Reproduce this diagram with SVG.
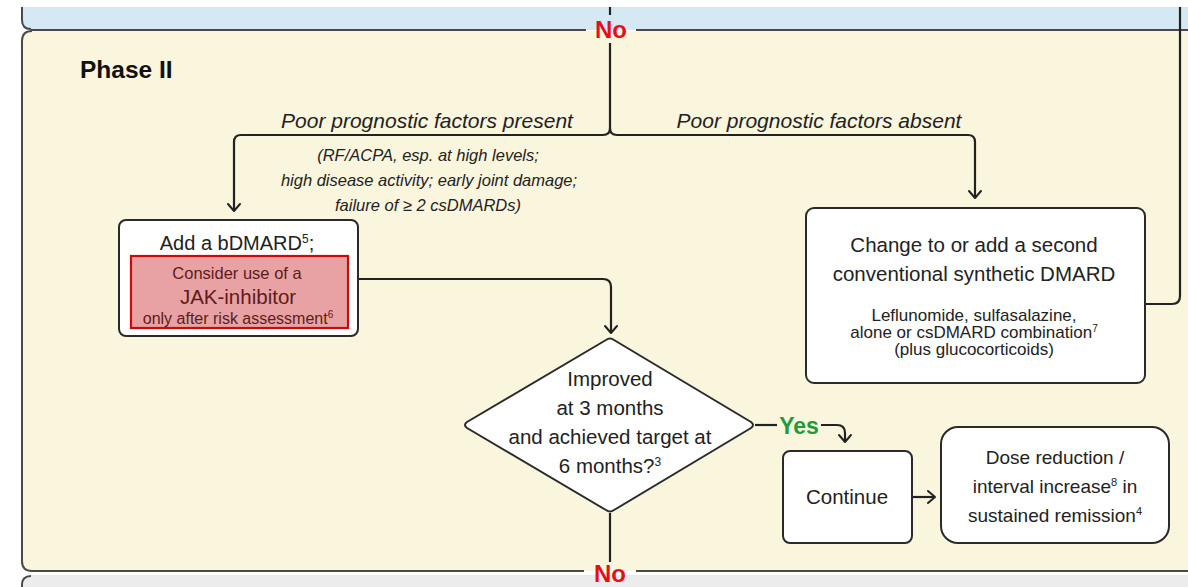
<svg xmlns="http://www.w3.org/2000/svg" width="1188" height="587" viewBox="0 0 1188 587">
  <defs>
    <marker id="arrow" markerUnits="userSpaceOnUse" markerWidth="20" markerHeight="20" viewBox="-10 -10 20 20" refX="0" refY="0" orient="auto">
      <path d="M-7,-6 L0,0 L-7,6" fill="none" stroke="#222" stroke-width="2" stroke-linecap="round" stroke-linejoin="round"/>
    </marker>
    <style>
      text { font-family: "Liberation Sans", Arial, sans-serif; fill: #222; }
      .panel-line { fill: none; stroke: #4a4a4a; stroke-width: 2; }
      .box { fill: #ffffff; stroke: #2a2a2a; stroke-width: 2; }
      .conn { fill: none; stroke: #222; stroke-width: 2.2; }
      .arrow { marker-end: url(#arrow); }
      .main { font-size: 20.5px; text-anchor: middle; }
      .dose { font-size: 19px; text-anchor: middle; }
      .small { font-size: 17px; text-anchor: middle; }
      .branch { font-size: 21px; font-style: italic; text-anchor: middle; }
      .note { font-size: 16.5px; font-style: italic; text-anchor: middle; }
      .no { font-size: 24px; font-weight: bold; fill: #e3101b; text-anchor: middle; }
      .yes { font-size: 23px; font-weight: bold; fill: #1f9a3d; text-anchor: middle; }
      .jak { fill: #5e1b1b; text-anchor: middle; }
    </style>
  </defs>

  <!-- background panels -->
  <g id="panels">
    <rect x="0" y="0" width="1188" height="587" fill="#ffffff"/>
    <path d="M22,7 H1188 V30 H31 Q22,30 22,21 Z" fill="#d5e9f5"/>
    <path d="M22,41 Q22,31 32,31 H1188 V571 H32 Q22,571 22,561 Z" fill="#faf5dd"/>
    <path d="M22,587 V585 Q22,575 32,575 H1188 V587 Z" fill="#ececec"/>
    <path class="panel-line" d="M22,7 V20 Q22,29 31,29"/>
    <path class="panel-line" d="M31,30 H586 M636,30 H1188"/>
    <path class="panel-line" d="M32,31 Q22,31 22,41 V561 Q22,571 32,571 H584 M636,571 H1188" stroke="#666"/>
    <path class="panel-line" d="M22,587 V585 Q22,576 31,576" stroke="#888" stroke-width="1.5"/>
    <text x="80" y="78" style="font-size:24.5px;font-weight:bold;fill:#111">Phase II</text>
  </g>

  <!-- connectors -->
  <g id="connectors">
    <path class="conn" d="M610,7 V15"/>
    <path class="conn arrow" d="M610,43 V128 Q610,135 603,135 H241 Q234,135 234,142 V211"/>
    <path class="conn arrow" d="M610,128 Q610,135 617,135 H968 Q975,135 975,142 V198"/>
    <path class="conn arrow" d="M358,279 H603 Q611,279 611,287 V333"/>
    <path class="conn" d="M610,513 V562"/>
    <path class="conn" d="M755,425 H777"/>
    <path class="conn arrow" d="M821,425 H837 Q845,425 845,433 V442"/>
    <path class="conn arrow" d="M912,497 H935"/>
    <path class="conn" d="M1145,304 H1172 Q1180,304 1180,296 V7"/>

    <text class="no" x="611" y="38">No</text>
    <text class="no" x="610" y="582">No</text>
    <text class="yes" x="799" y="434">Yes</text>

    <text class="branch" x="427" y="128">Poor prognostic factors present</text>
    <text class="branch" x="819" y="128">Poor prognostic factors absent</text>
    <text class="note" x="428" y="161">(RF/ACPA, esp. at high levels;</text>
    <text class="note" x="429" y="186">high disease activity; early joint damage;</text>
    <text class="note" x="428" y="211">failure of ≥ 2 csDMARDs)</text>
  </g>

  <!-- Add a bDMARD -->
  <g id="node-bdmard">
    <rect class="box" x="119" y="220" width="239" height="116" rx="7"/>
    <text class="main" x="237" y="250" style="font-size:20px">Add a bDMARD<tspan dy="-7" style="font-size:12px">5</tspan><tspan dy="7">;</tspan></text>
    <rect x="131" y="256" width="217" height="72" fill="#e8a2a3" stroke="#cc0a0a" stroke-width="2.2"/>
    <text class="jak" x="237" y="279" style="font-size:16.5px">Consider use of a</text>
    <text class="jak" x="238" y="304" style="font-size:20.5px">JAK-inhibitor</text>
    <text class="jak" x="238" y="324" style="font-size:16px">only after risk assessment<tspan dy="-6" style="font-size:10px">6</tspan></text>
  </g>

  <!-- Change to or add csDMARD -->
  <g id="node-csdmard">
    <rect class="box" x="806" y="208" width="339" height="175" rx="8"/>
    <text class="main" x="974" y="252">Change to or add a second</text>
    <text class="main" x="974" y="281">conventional synthetic DMARD</text>
    <text class="small" x="974" y="321">Leflunomide, sulfasalazine,</text>
    <text class="small" x="974" y="338">alone or csDMARD combination<tspan dy="-6" style="font-size:10px">7</tspan></text>
    <text class="small" x="974" y="355">(plus glucocorticoids)</text>
  </g>

  <!-- decision -->
  <g id="node-decision">
    <path class="box" d="M606,340 Q610,337 614,340 L751,422 Q755,425 751,428 L614,510 Q610,513 606,510 L467,428 Q463,425 467,422 Z" stroke-linejoin="round"/>
    <text class="main" x="610" y="386">Improved</text>
    <text class="main" x="610" y="415">at 3 months</text>
    <text class="main" x="610" y="444">and achieved target at</text>
    <text class="main" x="610" y="473">6 months?<tspan dy="-7" style="font-size:12px">3</tspan></text>
  </g>

  <!-- Continue -->
  <g id="node-continue">
    <rect class="box" x="783" y="451" width="129" height="92" rx="7"/>
    <text class="main" x="847" y="504">Continue</text>
  </g>

  <!-- Dose reduction -->
  <g id="node-dose">
    <rect class="box" x="941" y="427" width="228" height="116" rx="17"/>
    <text class="dose" x="1055" y="464">Dose reduction /</text>
    <text class="dose" x="1055" y="493">interval increase<tspan dy="-7" style="font-size:11px">8</tspan><tspan dy="7"> in</tspan></text>
    <text class="dose" x="1055" y="522">sustained remission<tspan dy="-7" style="font-size:11px">4</tspan></text>
  </g>
</svg>
